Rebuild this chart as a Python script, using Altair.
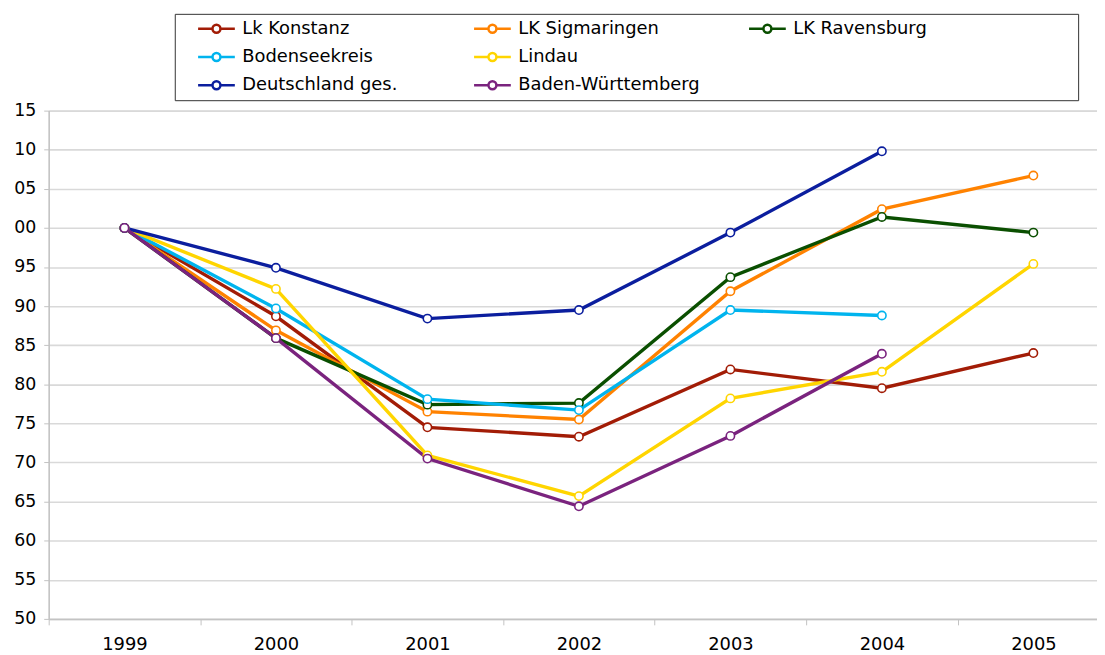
import altair as alt
import pandas as pd

years = [1999, 2000, 2001, 2002, 2003, 2004, 2005]
series = ["Lk Konstanz", "LK Sigmaringen", "LK Ravensburg", "Bodenseekreis",
          "Lindau", "Deutschland ges.", "Baden-Württemberg"]
colors = ["#A21C06", "#FF8200", "#0A4F00", "#00B4EE", "#FFD500", "#0B1E9E", "#7A237E"]

konstanz = [100, 88.7, 74.5, 73.3, 81.9, 79.5, 84.0]
sigmaringen = [100, 86.9, 76.5, 75.5, 91.9, 102.4, 106.7]
ravensburg = [100, 85.9, 77.4, 77.6, 93.7, 101.4, 99.4]
bodensee = [100, 89.7, 78.1, 76.7, 89.5, 88.8, None]
lindau = [100, 92.2, 70.9, 65.7, 78.2, 81.6, 95.4]
deutschland = [100, 94.9, 88.4, 89.5, 99.4, 109.8, None]
bawue = [100, 85.9, 70.5, 64.4, 73.4, 83.9, None]

y_ticks = [50, 55, 60, 65, 70, 75, 80, 85, 90, 95, 100, 105, 110, 115]
x_ticks = [1998.5, 1999, 1999.5, 2000, 2000.5, 2001, 2001.5, 2002, 2002.5,
           2003, 2003.5, 2004, 2004.5, 2005]

values = [konstanz, sigmaringen, ravensburg, bodensee, lindau, deutschland, bawue]
rows = []
for name, vals in zip(series, values):
    for yr, v in zip(years, vals):
        if v is not None:
            rows.append({"Jahr": yr, "Wert": v, "Region": name})
df = pd.DataFrame(rows)

# legend entries fill column by column (3 rows): K, B, D | S, L, BW | R, pad
PAD = "PAD"
order = [0, 3, 5, 1, 4, 6, 2]
legend_domain = [series[i] for i in order] + [PAD]
legend_range = [colors[i] for i in order] + ["transparent"]

# invisible filler characters widen the legend columns
BLANK = "\u2800"
pad_map = {
    PAD: BLANK * 10 + "   " + BLANK * 10,
    "Deutschland ges.": "Deutschland ges." + " " + BLANK * 5,
    "Baden-Württemberg": "Baden-Württemberg" + "   " + BLANK * 2,
}
label_expr = "datum.label"
for key, txt in pad_map.items():
    label_expr = f"datum.label == '{key}' ? '{txt}' : ({label_expr})"

FONT = "DejaVu Sans"
sym = ("M-3.7,0L-0.8,0M0.8,0L3.7,0"
       "M0.8,0A0.8,0.8 0 1 1 -0.8,0A0.8,0.8 0 1 1 0.8,0Z")

legend = alt.Legend(
    orient="none", legendX=127, legendY=-97.5, columns=3, gridAlign="each",
    title=" ", titleOrient="left", titlePadding=16,
    titleFont=FONT, titleFontSize=17.5,
    columnPadding=0, rowPadding=10.5, padding=6,
    strokeColor="#333333",
    symbolType=sym, symbolSize=100, symbolStrokeWidth=2.5,
    symbolFillColor="white", symbolOpacity=1, symbolOffset=11,
    labelOffset=17, labelFont=FONT, labelFontSize=18, labelColor="black",
    labelLimit=800,
    labelExpr=label_expr,
)

color = alt.Color("Region:N",
                  scale=alt.Scale(domain=legend_domain, range=legend_range),
                  legend=legend)

x = alt.X("Jahr:Q",
          scale=alt.Scale(domain=[1998.5, 2005.42], nice=False, zero=False),
          axis=alt.Axis(values=x_ticks, format=".0f", title=None,
                        grid=False, domainColor="#c3c3c3", domainWidth=1.5,
                        tickColor="#c3c3c3", tickSize=6, tickWidth=1,
                        tickOpacity={"condition": {"test": "datum.value % 1 != 0", "value": 1}, "value": 0},
                        labelOpacity={"condition": {"test": "datum.value % 1 != 0", "value": 0}, "value": 1},
                        labelPadding=11, labelFont=FONT, labelFontSize=18,
                        labelColor="black", labelOverlap=False, labelFlush=False))

y = alt.Y("Wert:Q",
          scale=alt.Scale(domain=[50, 115], nice=False, zero=False),
          axis=alt.Axis(values=y_ticks, format="d", title=None,
                        labelExpr="slice(datum.label, -2)",
                        grid=True, gridColor="#d9d9d9", gridWidth=1.6,
                        domainColor="#c3c3c3", domainWidth=1.5,
                        tickColor="#c3c3c3", tickSize=5,
                        labelPadding=8, labelFont=FONT, labelFontSize=17.5,
                        labelColor="black", labelOverlap=False, labelFlush=False))

base = alt.Chart(df).encode(x=x, y=y, color=color)

lines = base.mark_line(strokeWidth=3.4, opacity=1)
points = base.mark_point(shape="circle", filled=False, fill="white", size=70,
                         strokeWidth=1.6, opacity=1)

chart = alt.layer(lines, points).properties(
    width=1056, height=512,
    autosize=alt.AutoSizeParams(type="none"),
    padding={"left": 41, "top": 101, "right": 0, "bottom": 34},
).configure_view(stroke=None).configure(background="white")

chart.save("out.html", embed_options={"renderer": "svg", "actions": False})
